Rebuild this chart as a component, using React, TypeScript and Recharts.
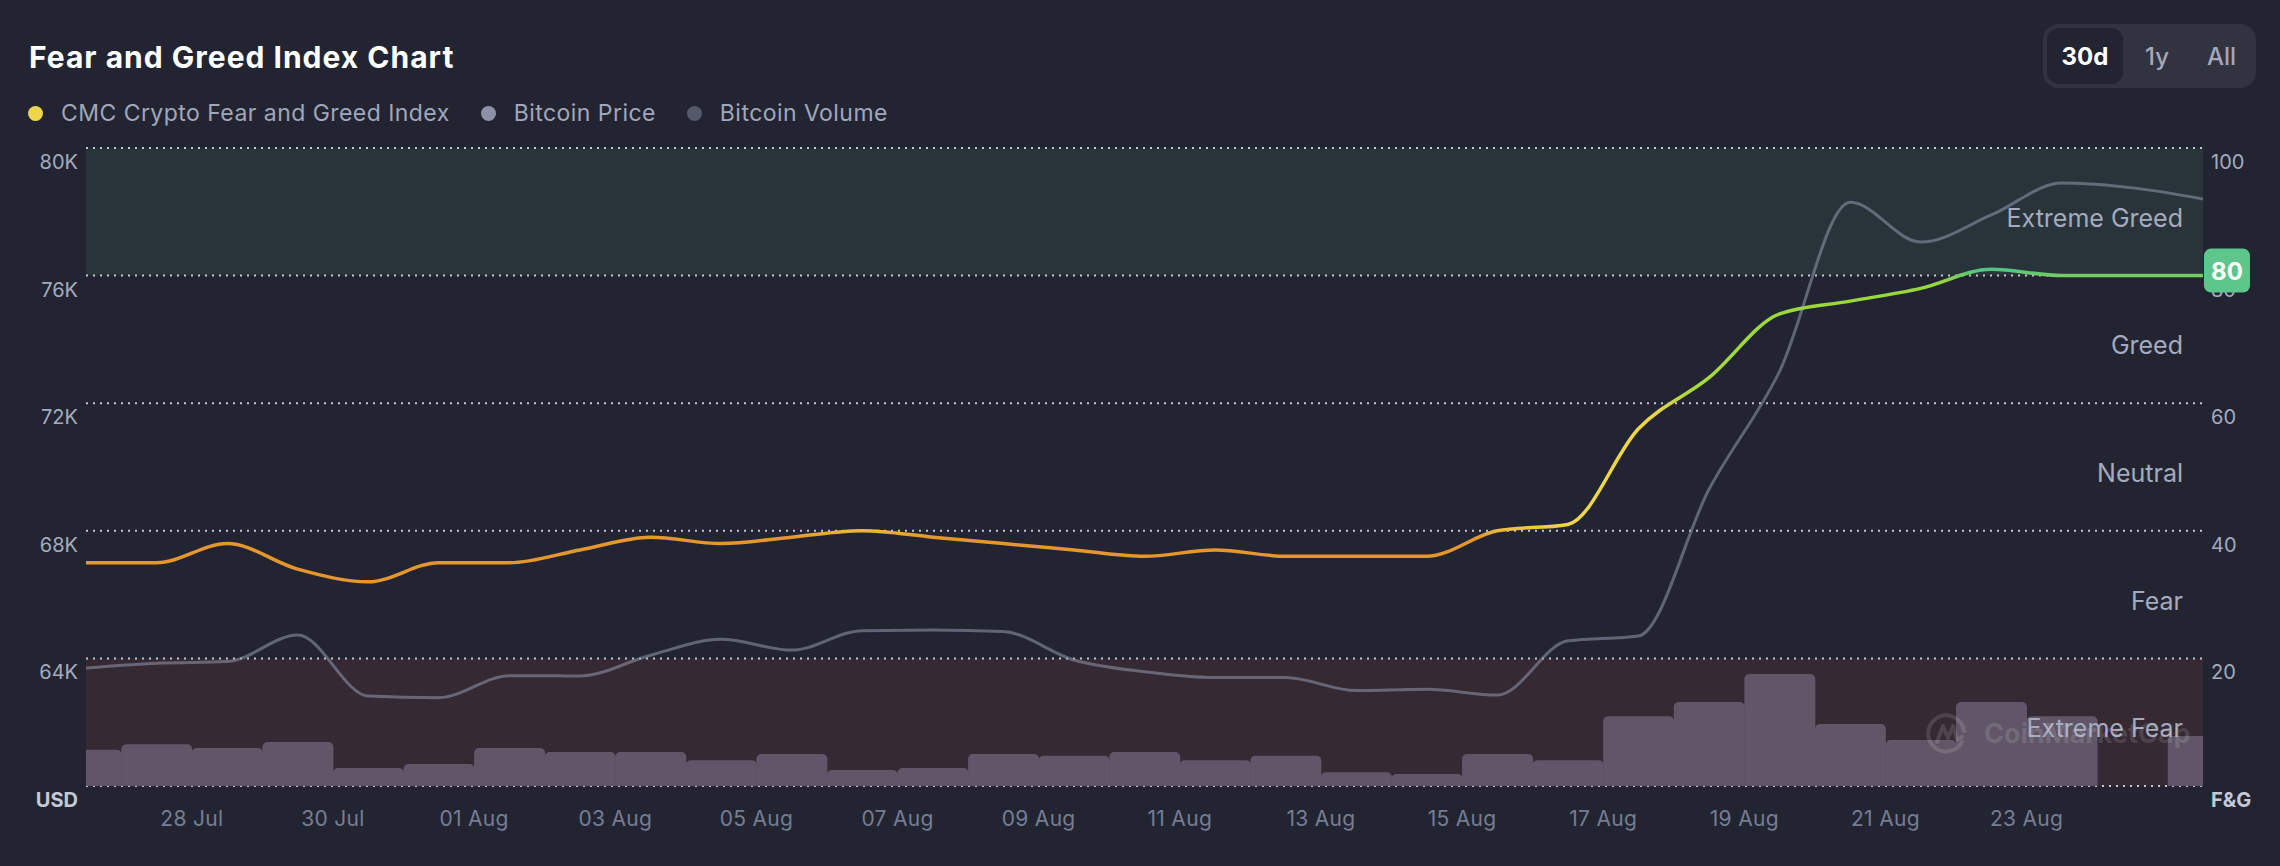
import {
  ComposedChart,
  Bar,
  Line,
  XAxis,
  YAxis,
  CartesianGrid,
  ReferenceArea,
  ReferenceDot,
} from 'recharts';

const W = 2280;
const H = 866;
// plot box of the reference, in page pixels
const PLOT = { left: 86, right: 2203, top: 148, bottom: 786 };

const DATES = [
  '26 Jul', '27 Jul', '28 Jul', '29 Jul', '30 Jul', '31 Jul',
  '01 Aug', '02 Aug', '03 Aug', '04 Aug', '05 Aug', '06 Aug', '07 Aug', '08 Aug',
  '09 Aug', '10 Aug', '11 Aug', '12 Aug', '13 Aug', '14 Aug', '15 Aug', '16 Aug',
  '17 Aug', '18 Aug', '19 Aug', '20 Aug', '21 Aug', '22 Aug', '23 Aug', '24 Aug', '25 Aug',
];
const FEAR_GREED = [
  35, 35, 38, 34, 32, 35, 35, 37, 39, 38, 39, 40, 39, 38, 37, 36,
  37, 36, 36, 36, 40, 41, 56, 64, 74, 76, 78, 81, 80, 80, 80,
];
const BTC_PRICE = [
  63700, 63850, 63900, 64730, 62820, 62770, 63460, 63450, 64100, 64600, 64260,
  64870, 64890, 64840, 63950, 63580, 63400, 63400, 62990, 63030, 62850, 64550,
  64700, 69300, 73000, 78300, 77050, 77900, 78900, 78750, 78400,
];
// billions USD, null = no bar
const BTC_VOLUME = [
  10.2, 11.8, 10.7, 12.4, 5.1, 6.2, 10.7, 9.6, 9.6, 7.3, 9.0, 4.5, 5.1, 9.0, 8.5, 9.6,
  7.3, 8.5, 3.9, 3.4, 9.0, 7.3, 19.7, 23.7, 31.6, 17.5, 13.0, 23.7, 19.7, null, 14.1,
];
const TICK_DATES = [
  '28 Jul', '30 Jul', '01 Aug', '03 Aug', '05 Aug', '07 Aug', '09 Aug',
  '11 Aug', '13 Aug', '15 Aug', '17 Aug', '19 Aug', '21 Aug', '23 Aug',
];
const USD_TICKS = [60000, 64000, 68000, 72000, 76000, 80000];
const FG_TICKS = [0, 20, 40, 60, 80, 100];
const ZONES = [
  { name: 'Extreme Greed', from: 80, to: 100, fill: '#29343A' },
  { name: 'Greed', from: 60, to: 80, fill: 'transparent' },
  { name: 'Neutral', from: 40, to: 60, fill: 'transparent' },
  { name: 'Fear', from: 20, to: 40, fill: 'transparent' },
  { name: 'Extreme Fear', from: 0, to: 20, fill: '#352934' },
];
const LEGEND = [
  { name: 'CMC Crypto Fear and Greed Index', color: '#EFD54B' },
  { name: 'Bitcoin Price', color: '#8D92A7' },
  { name: 'Bitcoin Volume', color: '#555A6A' },
];
const RANGES = ['30d', '1y', 'All'];

const BG = '#222531';
const LABEL = '#A5ABBE';

// each point sits at noon of its day, date ticks at midnight
const data = DATES.map((date, i) => ({
  day: i + 0.5,
  date,
  fng: FEAR_GREED[i],
  price: BTC_PRICE[i],
  volume: BTC_VOLUME[i],
}));
const tickDays = TICK_DATES.map((d) => DATES.indexOf(d));
const last = data[data.length - 1];

function UsdTick({ x, y, payload }: any) {
  const unit = payload.value === USD_TICKS[0];
  return (
    <text x={x} y={y + 21} textAnchor="end" fontSize={20} fontWeight={unit ? 700 : 400} fill={unit ? '#C5C9D5' : LABEL}>
      {unit ? 'USD' : `${payload.value / 1000}K`}
    </text>
  );
}

function FgTick({ x, y, payload }: any) {
  const unit = payload.value === FG_TICKS[0];
  return (
    <text x={x} y={y + 21} textAnchor="start" fontSize={20} fontWeight={unit ? 700 : 400} fill={unit ? '#C5C9D5' : LABEL}>
      {unit ? 'F&G' : payload.value}
    </text>
  );
}

function DateTick({ x, y, payload }: any) {
  return (
    <text x={x} y={y + 40} textAnchor="middle" fontSize={21} letterSpacing={0.3} fill="#767D93">
      {DATES[payload.value]}
    </text>
  );
}

const zoneLabel = (name: string) => (props: any) => {
  const { x, y, width, height } = props.viewBox;
  return (
    <text x={x + width - 20} y={y + height / 2 + 15} textAnchor="end" fontSize={25} fill={LABEL}>
      {name}
    </text>
  );
};

function Badge({ cx, cy }: any) {
  return (
    <g>
      <rect x={cx + 1} y={cy - 27} width={46} height={44} rx={7} fill="#5CC68B" />
      <text x={cx + 24} y={cy + 4} textAnchor="middle" fontSize={24} fontWeight={700} fill="#FFFFFF">
        {last.fng}
      </text>
    </g>
  );
}

function Watermark() {
  return (
    <div
      style={{
        position: 'absolute',
        left: 1926,
        top: 711,
        display: 'flex',
        alignItems: 'center',
        gap: 14,
        color: 'rgba(255,255,255,0.13)',
        pointerEvents: 'none',
      }}
    >
      <svg width={44} height={44} viewBox="0 0 44 44">
        <path d="M36 31 A18 18 0 1 1 38 20" fill="none" stroke="currentColor" strokeWidth={4} strokeLinecap="round" />
        <path d="M11 31 L17 15 L22 27 L27 15 L31 29 L36 26" fill="none" stroke="currentColor" strokeWidth={4} strokeLinejoin="round" strokeLinecap="round" />
      </svg>
      <span style={{ fontSize: 27, fontWeight: 700 }}>CoinMarketCap</span>
    </div>
  );
}

export default function App() {
  return (
    <div
      style={{
        position: 'fixed',
        left: 0,
        top: 0,
        width: W,
        height: H,
        background: BG,
        fontFamily: 'Inter, "Noto Sans", sans-serif',
        overflow: 'hidden',
      }}
    >
      <div style={{ position: 'absolute', left: 29, top: 42, fontSize: 30, letterSpacing: 1, lineHeight: 1, fontWeight: 700, color: '#FFFFFF' }}>
        Fear and Greed Index Chart
      </div>

      <div style={{ position: 'absolute', left: 28, top: 102, display: 'flex', gap: 31, fontSize: 23, letterSpacing: 0.45, lineHeight: 1, color: '#A1A7BB' }}>
        {LEGEND.map((l) => (
          <div key={l.name} style={{ display: 'flex', alignItems: 'center', gap: 18 }}>
            <span style={{ width: 15, height: 15, borderRadius: '50%', background: l.color }} />
            <span>{l.name}</span>
          </div>
        ))}
      </div>

      <div
        style={{
          position: 'absolute',
          left: 2043,
          top: 24,
          width: 213,
          height: 64,
          boxSizing: 'border-box',
          padding: 4,
          borderRadius: 16,
          background: '#313341',
          display: 'flex',
        }}
      >
        {RANGES.map((r, i) => (
          <div
            key={r}
            style={{
              width: i === 0 ? 76 : i === 1 ? 68 : 61,
              height: 56,
              borderRadius: 12,
              background: i === 0 ? BG : 'transparent',
              display: 'flex',
              alignItems: 'center',
              justifyContent: 'center',
              fontSize: 24,
              fontWeight: i === 0 ? 700 : 500,
              color: i === 0 ? '#FFFFFF' : '#A3A8BA',
            }}
          >
            {r}
          </div>
        ))}
      </div>

      <div style={{ position: 'absolute', left: 0, top: 0 }}>
        <ComposedChart
          width={W}
          height={H}
          data={data}
          margin={{ top: PLOT.top, right: 0, bottom: 0, left: 0 }}
          barCategoryGap={0}
        >
          <defs>
            <linearGradient id="fngStroke" gradientUnits="userSpaceOnUse" x1="0" y1={PLOT.top} x2="0" y2={PLOT.bottom}>
              <stop offset="0" stopColor="#4FC486" />
              <stop offset="0.19" stopColor="#4FC486" />
              <stop offset="0.21" stopColor="#96D73C" />
              <stop offset="0.38" stopColor="#A8DA3B" />
              <stop offset="0.42" stopColor="#EDD44A" />
              <stop offset="0.59" stopColor="#F0D64A" />
              <stop offset="0.61" stopColor="#E5962C" />
              <stop offset="0.79" stopColor="#E5962C" />
              <stop offset="0.81" stopColor="#E0573C" />
              <stop offset="1" stopColor="#E0573C" />
            </linearGradient>
          </defs>

          <XAxis
            type="number"
            dataKey="day"
            domain={[data[0].day, last.day]}
            ticks={tickDays}
            allowDataOverflow
            height={H - PLOT.bottom}
            axisLine={false}
            tickLine={false}
            tickSize={0}
            tickMargin={0}
            tick={<DateTick />}
            interval={0}
          />
          <YAxis
            yAxisId="usd"
            orientation="left"
            width={PLOT.left}
            domain={[USD_TICKS[0], USD_TICKS[USD_TICKS.length - 1]]}
            ticks={USD_TICKS}
            axisLine={false}
            tickLine={false}
            tickSize={0}
            tickMargin={8}
            tick={<UsdTick />}
            interval={0}
          />
          <YAxis
            yAxisId="fg"
            orientation="right"
            width={W - PLOT.right}
            domain={[FG_TICKS[0], FG_TICKS[FG_TICKS.length - 1]]}
            ticks={FG_TICKS}
            axisLine={false}
            tickLine={false}
            tickSize={0}
            tickMargin={8}
            tick={<FgTick />}
            interval={0}
          />
          <YAxis yAxisId="vol" hide domain={[0, 180]} />

          {ZONES.map((z) => (
            <ReferenceArea
              key={z.name}
              yAxisId="fg"
              y1={z.from}
              y2={z.to}
              fill={z.fill}
              fillOpacity={1}
              stroke="none"
              zIndex={-200}
            />
          ))}

          <CartesianGrid
            yAxisId="usd"
            vertical={false}
            stroke="#C3C6D0"
            strokeWidth={2}
            strokeDasharray="2 5"
          />

          <Bar yAxisId="vol" dataKey="volume" fill="#615668" radius={[5, 5, 0, 0]} isAnimationActive={false} />
          <Line
            yAxisId="usd"
            type="monotone"
            dataKey="price"
            stroke="#8D92A7"
            strokeOpacity={0.58}
            strokeWidth={3}
            dot={false}
            activeDot={false}
            isAnimationActive={false}
          />
          <Line
            yAxisId="fg"
            type="monotone"
            dataKey="fng"
            stroke="url(#fngStroke)"
            strokeWidth={3.5}
            dot={false}
            activeDot={false}
            isAnimationActive={false}
          />

          {ZONES.map((z) => (
            <ReferenceArea
              key={`label-${z.name}`}
              yAxisId="fg"
              y1={z.from}
              y2={z.to}
              fill="none"
              stroke="none"
              label={zoneLabel(z.name)}
              zIndex={2000}
            />
          ))}
          <ReferenceDot yAxisId="fg" x={last.day} y={last.fng} r={0} shape={(p: any) => <Badge {...p} />} zIndex={2100} />
        </ComposedChart>
      </div>

      <Watermark />
    </div>
  );
}
